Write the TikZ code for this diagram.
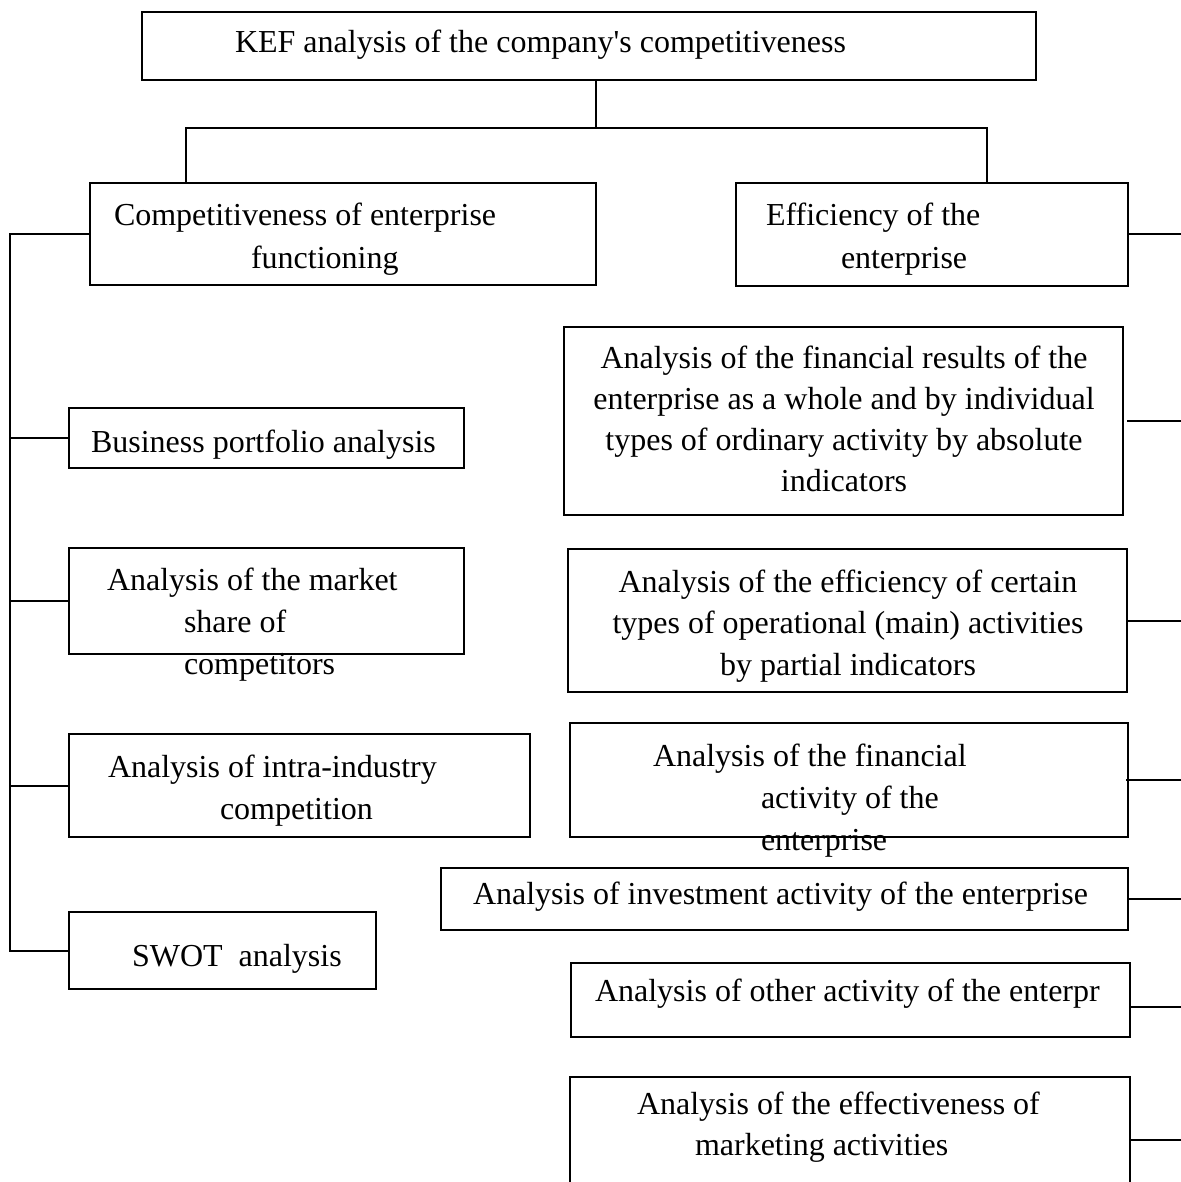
\documentclass[tikz,border=0pt]{standalone}
\usepackage{fontspec}
\setmainfont{Liberation Serif}
\usetikzlibrary{fit,calc}
\begin{document}
\begin{tikzpicture}[x=0.5pt,y=-0.5pt,
  line width=1pt,
  box/.style={draw=black,line width=1pt,rectangle,inner sep=0pt},
  txt/.style={inner sep=0pt,font=\fontsize{16pt}{19pt}\selectfont},
  lw/.style={txt,anchor=base west},
  lc/.style={txt,anchor=base}]
\clip (0,0) rectangle (1181,1182);
\fill[white] (0,0) rectangle (1181,1182);

% --- boxes ---
\node[box,fit={(142,12) (1036,80)}] (top) {};
\node[box,fit={(90,183) (596,285)}] (comp) {};
\node[box,fit={(736,183) (1128,286)}] (eff) {};
\node[box,fit={(69,408) (464,468)}] (biz) {};
\node[box,fit={(69,548) (464,654)}] (market) {};
\node[box,fit={(69,734) (530,837)}] (intra) {};
\node[box,fit={(69,912) (376,989)}] (swot) {};
\node[box,fit={(564,327) (1123,515)}] (finres) {};
\node[box,fit={(568,549) (1127,692)}] (oper) {};
\node[box,fit={(570,723) (1128,837)}] (finact) {};
\node[box,fit={(441,868) (1128,930)}] (invest) {};
\node[box,fit={(571,963) (1130,1037)}] (other) {};
\node[box,fit={(570,1077) (1130,1203)}] (mkt) {};

% --- texts ---
\node[lw] (ttop) at (234,53) {KEF analysis of the company\textquotesingle s competitiveness};
\node[lw] (tcomp1) at (113,226) {Competitiveness of enterprise};
\node[lw] (tcomp2) at (250,268) {functioning};
\node[lw] (teff1) at (765,226) {Efficiency of the};
\node[lw] (teff2) at (840,269) {enterprise};
\node[lw] (tbiz) at (90,452) {Business portfolio analysis};
\node[lw] (tmk1) at (106,590) {Analysis of the market};
\node[lw] (tmk2) at (183,632) {share of};
\node[lw] (tmk3) at (183,674) {competitors};
\node[lw] (tin1) at (107,777) {Analysis of intra-industry};
\node[lw] (tin2) at (219,819) {competition};
\node[lw] (tsw) at (131,966) {SWOT\ \ analysis};
\node[lc] (tfr1) at (844,368) {Analysis of the financial results of the};
\node[lc] (tfr2) at (844,409) {enterprise as a whole and by individual};
\node[lc] (tfr3) at (844,450) {types of ordinary activity by absolute};
\node[lc] (tfr4) at (844,491) {indicators};
\node[lc] (top1) at (848,592) {Analysis of the efficiency of certain};
\node[lc] (top2) at (848,633) {types of operational (main) activities};
\node[lc] (top3) at (848,675) {by partial indicators};
\node[lw] (tfa1) at (652,766) {Analysis of the financial};
\node[lw] (tfa2) at (760,808) {activity of the};
\node[lw] (tfa3) at (760,850) {enterprise};
\node[lw] (tinv) at (472,904) {Analysis of investment activity of the enterprise};
\node[lw] (toth) at (594,1001) {Analysis of other activity of the enterpr};
\node[lw] (tmkt1) at (636,1114) {Analysis of the effectiveness of};
\node[lw] (tmkt2) at (694,1155) {marketing activities};

% --- connectors ---
\coordinate (jc) at (596,128);
\coordinate (jl) at (186,128);
\coordinate (jr) at (987,128);
\coordinate (spine) at (10,0);
\coordinate (edge) at (1181,0);

\draw (jc |- top.south) -- (jc);
\draw (jl |- comp.north) -- (jl) -- (jr) -- (jr |- eff.north);

\draw (comp.west) -| (spine |- swot.west) -- (swot.west);
\draw (spine |- biz.west) -- (biz.west);
\draw (spine |- market.west) -- (market.west);
\draw (spine |- intra.west) -- (intra.west);

\draw (eff.east) -- (edge |- eff.east);
\draw ([xshift=1.5pt]finres.east) -- (edge |- finres.east);
\draw (oper.east) -- (edge |- oper.east);
\draw ([xshift=-1.5pt]finact.east) -- (edge |- finact.east);
\draw (invest.east) -- (edge |- invest.east);
\draw ($(other.east)+(0,7)$) coordinate (oc) -- (edge |- oc);
\draw (mkt.east) -- (edge |- mkt.east);
\end{tikzpicture}
\end{document}
